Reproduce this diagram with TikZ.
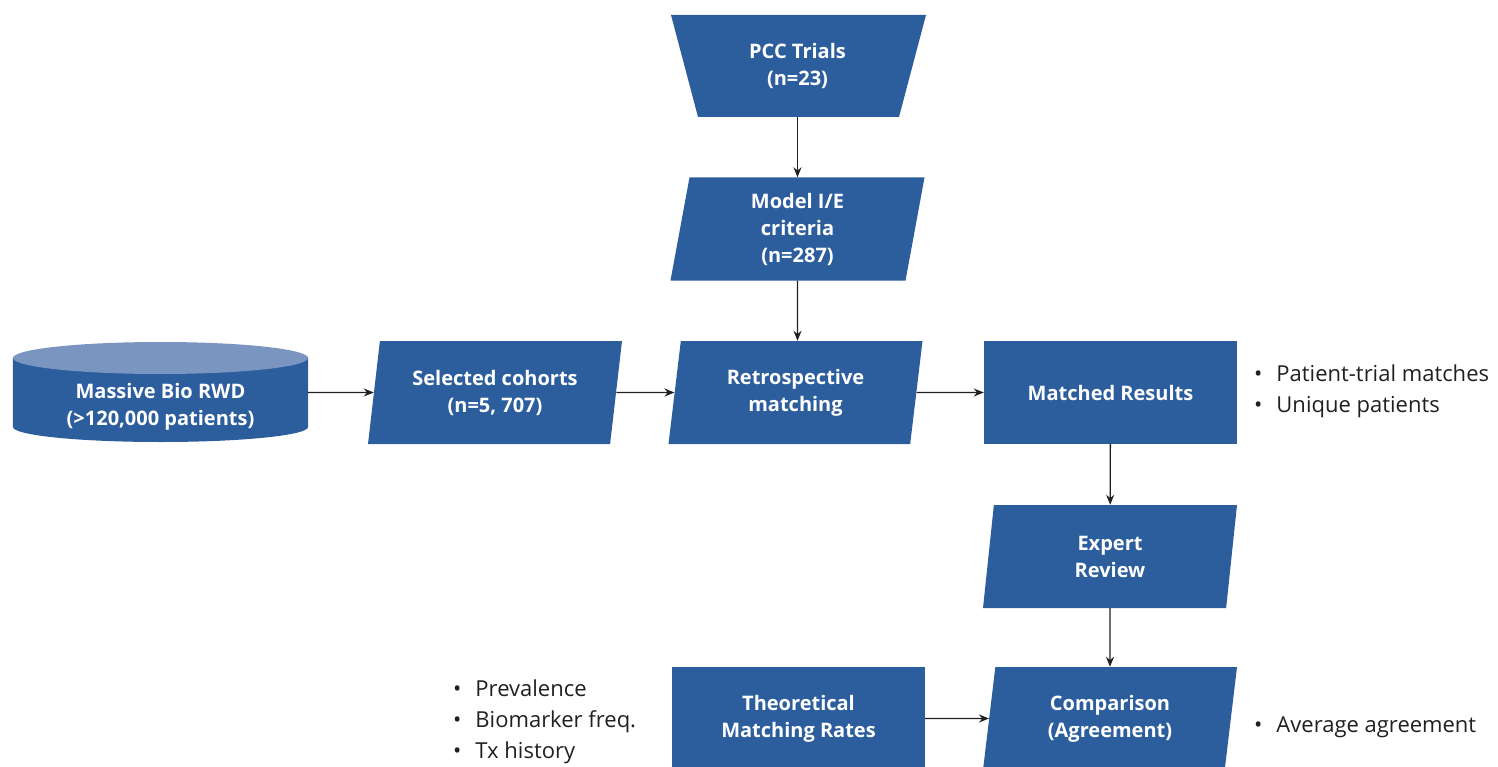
\documentclass[tikz,border=0pt]{standalone}
\usepackage{fontspec}
\setmainfont{Open Sans}
\usetikzlibrary{shapes.geometric,arrows.meta}
\definecolor{boxblue}{RGB}{44,94,158}
\definecolor{topblue}{RGB}{122,149,191}
\definecolor{ink}{RGB}{35,31,32}
\tikzset{
  boxtext/.style={text=white, font=\bfseries\fontsize{20}{27}\selectfont, align=center},
  para/.style={trapezium, trapezium left angle=75.3, trapezium right angle=104.7,
    trapezium stretches body, minimum width=254pt, minimum height=103pt,
    fill=boxblue, inner sep=0pt, boxtext},
  rectbox/.style={rectangle, minimum width=253pt, minimum height=103pt,
    fill=boxblue, inner sep=0pt, boxtext},
  arr/.style={draw=ink, line width=1.3pt, -{Stealth[length=10pt,width=8pt]}},
  bullets/.style={text=ink, font=\fontsize{22}{31}\selectfont, anchor=west, inner sep=0pt}
}
\begin{document}
\begin{tikzpicture}[x=1pt,y=-1pt]
\useasboundingbox (0,0) rectangle (1498,767);
% trials trapezium (inverted)
\fill[boxblue] (671,15) -- (926,15) -- (899,117) -- (698,117) -- cycle;
\node[minimum width=201pt, minimum height=102pt, inner sep=0pt, boxtext]
  (pcc) at (797.5,66) {PCC Trials\\(n=23)};
\node[para] (model) at (797.5,229) {Model I/E\\criteria\\(n=287)};
% database cylinder
\node[minimum width=295pt, minimum height=70pt, inner sep=0pt] (db) at (160.5,392.5) {};
\fill[boxblue] (db.north west) -- (13,427) arc[start angle=180, end angle=0, x radius=147.5, y radius=15] -- (db.north east) -- cycle;
\fill[topblue] (160.5,358) ellipse[x radius=147.5, y radius=16];
\node[boxtext] (dbtext) at (160.5,407) {Massive Bio RWD\\(>120,000 patients)};
\node[para] (sel) at (495,392.5) {Selected cohorts\\(n=5, 707)};
\node[para] (retro) at (795.5,392.5) {Retrospective\\matching};
\node[rectbox] (match) at (1110.5,392.5) {Matched Results};
\node[para] (expert) at (1110,556.5) {Expert\\Review};
\node[rectbox] (theo) at (798.5,718.5) {Theoretical\\Matching Rates};
\node[para] (comp) at (1110,718.5) {Comparison\\(Agreement)};
% bullet lists
\node[bullets] (l1) at (1254,391) {\begin{tabular}{@{}l@{\hspace{14pt}}l@{}}\textbullet & Patient-trial matches\\ \textbullet & Unique patients\end{tabular}};
\node[bullets] (l2) at (453,721.5) {\begin{tabular}{@{}l@{\hspace{14pt}}l@{}}\textbullet & Prevalence\\ \textbullet & Biomarker freq.\\ \textbullet & Tx history\end{tabular}};
\node[bullets] (l3) at (1254,726) {\begin{tabular}{@{}l@{\hspace{14pt}}l@{}}\textbullet & Average agreement\end{tabular}};
% connectors
\draw[arr] (pcc) -- (model);
\draw[arr] (model) -- (model |- retro.north);
\draw[arr] (db.east) -- (sel);
\draw[arr] (sel) -- (retro);
\draw[arr] (retro) -- (match);
\draw[arr] (match) -- (expert);
\draw[arr] (expert) -- (comp);
\draw[arr] (theo) -- (comp);
\end{tikzpicture}
\end{document}
